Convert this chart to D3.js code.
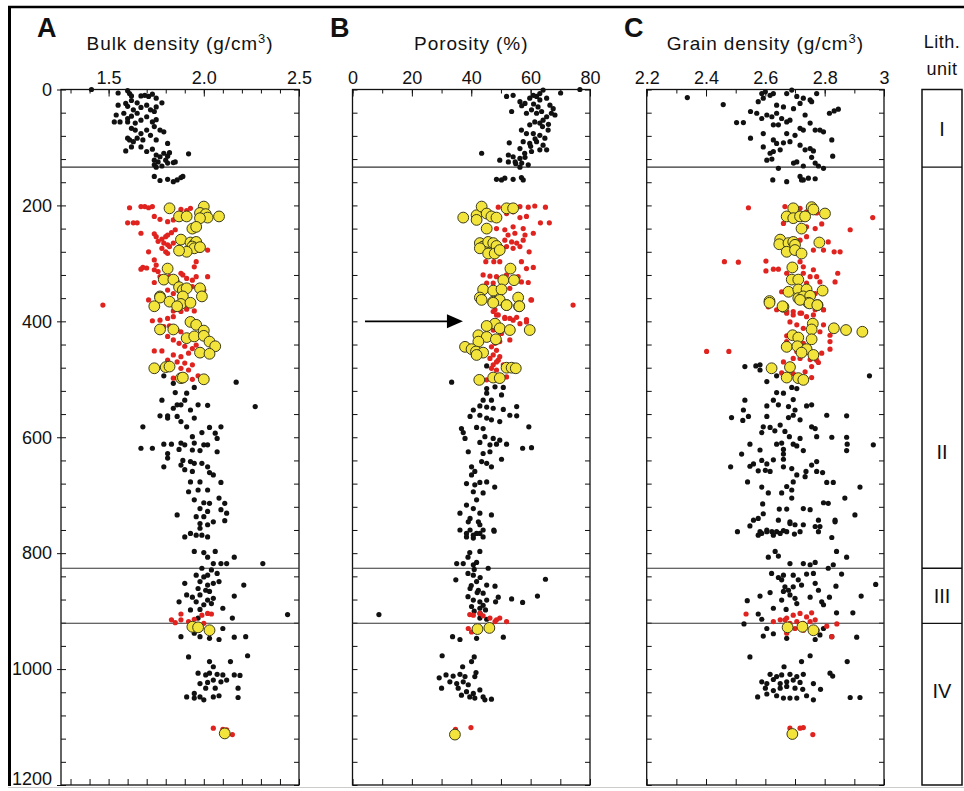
<!DOCTYPE html>
<html><head><meta charset="utf-8">
<script src="https://cdn.jsdelivr.net/npm/d3@7"></script>
<style>
body{margin:0;background:#fff}
svg{display:block}
text{font-family:"Liberation Sans",Arial,Helvetica,sans-serif;fill:#111}
</style>
</head><body>
<svg id="chart" width="964" height="791"></svg>
<script>
// ---------------- DATA ----------------
const depthTicks = [0, 200, 400, 600, 800, 1000, 1200];
const depthLabels = ["0", "200", "400", "600", "800", "1000", "1200"];
const unitBoundaries = [134, 826, 921];
const lithNames = ["I", "II", "III", "IV"];
const lithLabelDepths = [68, 625, 874, 1038];

const bulkTicks = [1.5, 2.0, 2.5];
const bulkTickLabels = ["1.5", "2.0", "2.5"];
const poroTicks = [0, 20, 40, 60, 80];
const poroTickLabels = ["0", "20", "40", "60", "80"];
const grainTicks = [2.2, 2.4, 2.6, 2.8, 3.0];
const grainTickLabels = ["2.2", "2.4", "2.6", "2.8", "3"];

const arrowDepth = 400, arrowFrom = 4.2, arrowTo = 37.2;

// [value, depth (m)]
const bulkBlack = [
[1.41,0],[1.55,6],[1.60,2],[1.61,7],[1.62,11],[1.67,11],[1.69,10],[1.71,12],[1.73,8],[1.75,15],[1.78,23],[1.55,27],[1.59,24],[1.60,29],[1.62,19],[1.63,35],[1.65,23],[1.67,31],[1.70,27],[1.72,35],[1.74,38],[1.75,30],[1.54,44],[1.58,41],[1.60,50],[1.62,46],[1.65,41],[1.67,53],[1.70,47],[1.73,56],[1.75,52],[1.53,56],[1.56,56],[1.60,56],[1.64,58],[1.62,67],[1.64,70],[1.67,76],[1.70,70],[1.74,64],[1.77,70],[1.79,73],[1.65,84],[1.60,84],[1.61,87],[1.63,90],[1.68,87],[1.72,79],[1.75,87],[1.81,93],[1.59,106],[1.62,99],[1.67,99],[1.70,107],[1.73,103],[1.75,113],[1.77,116],[1.79,110],[1.81,115],[1.82,109],[1.85,125],[1.92,111],[1.74,122],[1.76,125],[1.80,122],[1.74,130],[1.75,134],[1.78,132],[1.81,127],[1.84,126],[1.74,150],[1.77,157],[1.81,155],[1.84,159],[1.86,156],[1.88,152],[1.89,150],
[1.79,494],[2.17,505],[2.27,547],[1.84,507],[1.95,514],[1.85,523],[1.91,524],[1.78,536],[1.86,544],[1.88,544],[1.90,536],[1.93,553],[1.97,544],[2.02,545],[1.84,550],[1.81,563],[1.77,563],[1.81,567],[1.86,564],[1.88,573],[1.91,582],[1.95,567],[1.68,582],[2.03,583],[2.09,582],[1.94,599],[2.06,593],[2.07,602],[1.99,592],[1.79,612],[1.83,612],[1.88,610],[1.90,613],[1.95,610],[2.00,613],[2.02,613],[1.67,619],[1.73,619],[1.81,628],[1.87,621],[1.94,622],[1.98,623],[2.07,625],[1.81,636],[1.79,651],[1.89,640],[1.93,642],[1.88,648],[1.95,645],[1.90,656],[1.94,659],[1.99,645],[2.02,651],[2.03,661],[2.05,665],[1.93,677],[1.98,677],[2.09,678],[1.92,694],[1.97,691],[2.02,691],[1.95,708],[2.00,713],[2.03,714],[2.08,705],[2.11,714],[1.98,723],[2.02,728],[2.09,725],[2.12,731],[1.86,734],[1.96,737],[2.00,737],
[1.90,772],[1.93,766],[1.96,769],[1.99,769],[2.02,772],[1.98,749],[2.02,751],[2.05,746],[2.11,744],[1.98,757],[1.95,797],[2.00,799],[2.06,797],[2.02,807],[2.16,807],[2.31,818],[2.05,818],[2.09,818],[2.12,818],[1.99,826],[2.04,829],[2.07,835],[1.96,838],[2.00,841],[2.02,838],[2.08,849],[1.90,852],[1.98,849],[2.02,855],[2.05,852],[1.97,861],[2.01,864],[2.03,866],[2.21,855],[1.91,872],[1.94,876],[1.98,872],[2.02,881],[2.05,878],[2.16,874],[1.87,884],[1.96,884],[2.00,889],[2.04,887],[1.93,898],[1.98,897],[2.10,895],[2.15,912],[2.44,906],[1.97,912],[1.88,944],[1.95,938],[1.98,944],[2.03,947],[2.08,949],[2.10,930],[2.16,945],[2.22,944],[1.92,979],[2.23,977],[2.03,987],[2.14,987],[2.05,996],[1.97,1007],[2.01,1010],[2.03,1007],[2.07,1009],[2.10,1010],[2.16,1010],[2.19,1011],[1.98,1025],[2.02,1023],[2.05,1019],[2.09,1022],[2.12,1019],[2.01,1033],[2.06,1033],[2.18,1033],[1.91,1048],[1.95,1042],[1.98,1048],[2.00,1053],[2.05,1048],[2.08,1046],[2.18,1049],[1.95,1050]
];
const bulkRed = [
[1.61,204],[1.67,202],[1.69,202],[1.71,204],[1.73,202],[1.81,203],[1.88,207],[1.91,209],[1.93,205],[1.60,230],[1.63,230],[1.65,230],[1.74,219],[1.77,224],[1.81,228],[1.84,225],[1.88,222],[1.90,217],[1.67,248],[1.74,249],[1.75,254],[1.78,258],[1.80,254],[1.81,251],[1.83,247],[1.85,242],[1.79,265],[1.81,268],[1.82,271],[1.84,265],[1.78,274],[1.80,280],[1.81,283],[1.76,262],[2.02,277],[1.97,262],[1.71,280],[1.74,294],[1.75,303],[1.70,308],[1.68,307],[1.67,310],[1.74,311],[1.76,314],[1.81,306],[1.77,323],[1.80,329],[1.74,333],[1.82,323],[1.88,317],[1.89,320],[1.91,326],[1.94,329],[1.96,323],[2.02,323],[1.95,306],[1.86,331],[1.94,340],[1.88,343],[1.84,352],[1.81,346],[2.00,346],[1.96,297],[1.98,277],
[1.47,372],[1.71,363],[1.75,375],[1.81,369],[1.84,382],[1.88,383],[1.91,379],[1.95,382],[1.73,399],[1.77,398],[1.81,395],[1.84,392],[1.79,409],[1.82,408],[1.86,415],[1.88,418],[1.81,426],[1.84,432],[1.87,438],[1.90,443],[1.94,447],[1.96,441],[1.74,451],[1.78,451],[1.84,458],[1.88,461],[1.92,455],[1.81,467],[1.86,470],[1.90,472],[1.94,475],[1.88,481],[1.92,484],[1.90,493],[1.84,498],[1.97,494],[1.94,500],
[1.88,905],[1.83,915],[1.85,920],[1.88,915],[1.92,918],[1.95,914],[1.99,907],[2.02,904],[2.04,905],[2.00,921],[1.98,927],[2.05,1102],[2.10,1104],[2.12,1105],[2.15,1113]
];
const bulkYellow = [
[1.82,205],[1.87,219],[1.91,219],[2.00,202],[1.98,213],[2.01,215],[2.02,221],[1.98,222],[2.08,219],[1.94,240],[1.96,237],[1.88,259],[1.93,264],[1.95,267],[1.96,263],[1.94,271],[1.95,274],[1.91,280],[1.87,278],[1.98,272],[1.81,309],[1.79,328],[1.84,328],[1.87,341],[1.89,346],[1.91,343],[1.98,343],[1.77,357],[1.89,357],[1.99,357],
[1.77,359],[1.74,374],[1.82,366],[1.88,370],[1.93,368],[1.86,374],[1.93,401],[1.96,406],[2.00,416],[1.77,414],[1.84,414],[1.91,429],[1.95,426],[2.00,425],[2.03,435],[2.06,443],[1.98,454],[2.03,456],[1.74,481],[1.80,479],[1.82,478],[1.88,498],[1.89,497],[2.00,500],
[1.94,927],[1.97,928],[2.03,933],[2.11,1111]
];

const poroBlack = [
[76.6,0],[70.1,6],[63.1,7],[64.2,1],[51.9,12],[54.1,10],[56.4,21],[58.1,24],[59.7,15],[60.9,10],[63.1,18],[65.4,15],[66.5,27],[67.6,33],[53.6,38],[58.6,41],[60.3,35],[62.0,41],[63.7,38],[65.4,47],[67.0,41],[68.2,44],[59.7,61],[61.4,56],[63.1,58],[64.2,53],[65.9,70],[56.9,70],[58.6,76],[60.9,76],[63.1,79],[64.8,84],[57.5,90],[59.7,93],[62.0,90],[64.2,96],[52.8,92],[43.5,110],[56.4,102],[60.3,107],[63.1,104],[65.4,104],[52.5,113],[54.1,116],[56.4,119],[58.1,117],[49.6,122],[52.5,125],[54.8,125],[57.0,127],[59.2,130],[56.4,134],[48.5,155],[50.2,156],[51.3,153],[54.1,155],[56.9,152],[57.5,156],[61.0,25],[62.5,30],[64.0,64],[66.0,60],[61.5,85],[60.0,98],[58.0,110],[55.0,128],[62.0,12],[57.0,28],
[33.4,505],[45.2,477],[45.2,516],[48.0,513],[50.8,514],[45.2,524],[50.2,527],[46.8,536],[44.0,536],[42.9,546],[45.2,548],[47.4,550],[50.8,552],[55.3,547],[53.0,562],[55.3,563],[40.7,553],[39.6,564],[42.9,562],[45.2,567],[46.8,570],[49.6,573],[36.7,585],[37.3,592],[41.8,583],[44.0,585],[37.9,602],[44.6,599],[47.4,602],[49.6,605],[51.9,612],[57.3,619],[60.3,618],[59.4,582],[42.9,609],[46.3,613],[48.5,612],[39.0,625],[44.0,628],[46.3,625],[50.2,638],[43.5,642],[45.2,645],[46.8,651],[40.1,651],[41.2,659],[40.1,665],[45.2,677],[38.4,680],[41.2,682],[42.9,678],[47.9,686],[40.7,694],[44.0,696],[41.8,708],[38.4,717],[40.7,723],[42.9,731],[36.2,731],[39.6,740],[42.4,746],[46.8,734],[36.2,760],[39.6,760],[41.8,766],[44.0,760],[47.6,760],[38.4,772],[40.7,774],
[38.4,766],[40.7,769],[42.9,766],[44.0,772],[47.7,762],[39.0,746],[42.9,751],[39.5,799],[42.9,797],[38.9,807],[35.1,818],[37.3,818],[40.7,820],[41.8,816],[45.7,826],[38.9,835],[40.7,838],[34.8,846],[41.8,849],[45.2,855],[48.0,857],[39.6,861],[42.4,864],[44.0,869],[49.1,876],[53.6,879],[57.3,885],[62.3,874],[65.0,845],[38.9,875],[40.7,881],[42.9,884],[45.2,881],[48.2,884],[40.1,892],[42.9,895],[44.8,898],[8.9,906],[42.9,912],[45.2,914],[41.0,828],[43.0,842],[40.0,856],[42.0,868],[44.0,890],[41.0,900],[43.0,904],[33.7,944],[36.2,949],[41.8,947],[50.8,945],[30.2,977],[41.0,979],[40.1,987],[37.1,996],[41.6,1006],[41.2,1013],[29.2,1015],[31.5,1010],[33.9,1012],[36.2,1009],[37.9,1013],[32.8,1022],[35.1,1025],[37.3,1022],[39.0,1027],[30.0,1033],[35.6,1033],[38.4,1039],[40.7,1042],[42.9,1036],[36.7,1045],[39.5,1048],[41.2,1050],[44.0,1048],[46.8,1052],[44.6,1053]
];
const poroRed = [
[49.1,203],[51.9,214],[54.1,211],[56.4,202],[59.2,203],[61.4,201],[65.0,203],[56.4,221],[58.6,219],[63.3,230],[66.3,230],[48.5,240],[51.3,242],[54.1,237],[57.5,240],[52.4,251],[54.7,248],[58.1,251],[60.9,248],[51.3,260],[53.6,263],[55.3,265],[57.5,260],[51.9,271],[54.1,274],[56.4,271],[59.5,280],[44.9,297],[47.6,297],[49.6,297],[56.9,297],[60.9,307],[58.6,309],[44.0,320],[46.3,322],[48.5,323],[51.9,320],[55.8,323],[56.9,332],[59.2,333],[53.0,343],[45.2,334],[47.4,334],[60.1,363],[74.3,372],[48.0,380],[48.5,389],[51.3,393],[53.0,395],[55.3,393],[58.6,397],
[47.4,383],[49.1,389],[51.3,395],[54.1,398],[56.4,404],[58.6,401],[60.3,363],[53.0,432],[46.8,444],[48.5,450],[47.4,458],[49.1,467],[47.4,475],[48.5,484],[50.8,475],[46.8,493],[51.9,496],[45.2,501],[47.4,415],[45.2,421],[50.2,421],[49.6,435],[48.0,438],[46.3,464],[49.6,461],[48.5,470],[46.8,481],
[39.5,906],[40.7,907],[42.9,904],[44.0,908],[46.3,912],[48.5,915],[49.6,912],[51.9,918],[39.0,930],[40.1,936],[48.0,918],[34.7,1104],[39.9,1101]
];
const poroYellow = [
[37.3,221],[41.8,217],[43.5,202],[41.8,225],[45.2,214],[46.8,219],[48.5,221],[51.9,205],[54.1,205],[45.2,240],[42.9,265],[44.0,271],[45.7,263],[47.4,265],[48.5,270],[42.9,274],[45.7,283],[47.9,283],[49.6,277],[53.2,309],[50.8,329],[54.4,329],[44.0,345],[47.4,347],[50.2,345],[42.9,359],[47.4,366],[49.6,363],[51.9,372],[55.8,359],[56.1,374],
[43.5,363],[47.4,368],[51.9,372],[56.2,374],[48.0,404],[45.2,408],[49.6,412],[53.0,415],[59.7,415],[42.4,424],[45.2,427],[48.3,431],[42.4,435],[37.9,444],[40.1,448],[41.6,452],[44.0,454],[41.8,458],[51.9,480],[53.6,480],[55.0,481],[42.7,501],[47.4,497],[49.6,498],
[42.1,931],[46.1,929],[34.5,1113]
];

const grainBlack = [
[2.337,14],[2.458,26],[2.503,57],[2.526,57],[2.550,84],[2.550,38],[2.576,21],[2.588,7],[2.600,4],[2.616,10],[2.627,7],[2.593,15],[2.638,27],[2.661,30],[2.672,7],[2.689,1],[2.706,12],[2.728,15],[2.751,18],[2.773,7],[2.756,21],[2.717,24],[2.695,33],[2.734,44],[2.571,41],[2.588,50],[2.605,44],[2.622,47],[2.638,41],[2.655,50],[2.672,56],[2.683,53],[2.627,61],[2.644,61],[2.816,41],[2.832,37],[2.846,34],[2.593,76],[2.672,76],[2.700,79],[2.717,67],[2.728,70],[2.751,58],[2.768,70],[2.784,70],[2.796,73],[2.627,87],[2.638,93],[2.661,92],[2.683,90],[2.717,96],[2.734,104],[2.751,102],[2.762,106],[2.824,87],[2.593,99],[2.616,110],[2.627,107],[2.650,104],[2.605,122],[2.622,120],[2.695,127],[2.706,125],[2.728,132],[2.756,117],[2.768,127],[2.779,132],[2.796,136],[2.827,115],[2.644,136],[2.672,159],[2.625,156],[2.717,150],[2.728,156],[2.745,153],[2.768,154],[2.722,156],
[2.531,478],[2.568,477],[2.582,484],[2.582,475],[2.951,494],[2.605,504],[2.638,494],[2.689,514],[2.706,516],[2.638,523],[2.661,524],[2.627,536],[2.694,535],[2.531,536],[2.605,546],[2.644,544],[2.678,547],[2.700,553],[2.739,546],[2.756,544],[2.526,553],[2.543,564],[2.486,566],[2.524,571],[2.605,564],[2.678,566],[2.694,562],[2.717,570],[2.593,582],[2.616,583],[2.650,579],[2.756,582],[2.768,585],[2.807,562],[2.874,563],[2.588,592],[2.632,589],[2.666,590],[2.681,599],[2.717,602],[2.773,599],[2.824,600],[2.874,600],[2.876,612],[2.874,623],[2.964,613],[2.548,612],[2.638,612],[2.655,610],[2.694,612],[2.706,615],[2.582,622],[2.661,621],[2.728,623],[2.520,629],[2.661,629],[2.588,640],[2.605,646],[2.627,639],[2.661,638],[2.483,651],[2.548,650],[2.560,646],[2.576,658],[2.600,657],[2.616,659],[2.661,651],[2.689,654],[2.737,659],[2.756,648],[2.773,642],[2.773,659],[2.793,661],[2.706,665],[2.540,677],[2.588,686],[2.610,696],[2.655,696],[2.672,685],[2.694,677],[2.689,691],[2.734,668],[2.807,678],[2.829,678],[2.919,686],[2.868,705],[2.796,713],[2.812,714],[2.689,705],[2.591,715],[2.593,732],[2.576,740],[2.560,743],[2.647,724],[2.672,724],[2.728,723],[2.751,725],[2.644,743],[2.683,746],[2.700,751],[2.779,743],[2.835,743],[2.902,734],[2.548,753],[2.605,760],[2.582,763],[2.622,763],[2.638,763],[2.661,761],[2.672,763],[2.506,763],[2.717,763],[2.768,754],[2.784,754],[2.824,773],
[2.576,769],[2.588,766],[2.605,763],[2.627,769],[2.650,766],[2.698,767],[2.728,751],[2.779,763],[2.835,746],[2.683,749],[2.633,797],[2.644,805],[2.610,807],[2.728,818],[2.751,820],[2.768,816],[2.683,818],[2.829,820],[2.812,826],[2.840,797],[2.874,807],[2.621,835],[2.644,842],[2.661,838],[2.694,838],[2.711,846],[2.739,836],[2.762,835],[2.768,852],[2.779,864],[2.857,836],[2.838,857],[2.972,854],[2.923,874],[2.655,846],[2.666,858],[2.678,864],[2.694,858],[2.722,855],[2.661,866],[2.683,872],[2.700,878],[2.616,868],[2.582,874],[2.539,882],[2.706,887],[2.751,876],[2.790,884],[2.796,889],[2.816,876],[2.655,881],[2.627,895],[2.670,897],[2.840,903],[2.895,903],[2.576,905],[2.588,914],[2.528,922],[2.605,930],[2.593,943],[2.627,939],[2.672,947],[2.768,949],[2.784,941],[2.796,930],[2.824,944],[2.908,945],[2.548,979],[2.751,977],[2.722,987],[2.876,987],[2.663,996],[2.616,1009],[2.638,1013],[2.655,1010],[2.683,1009],[2.706,1013],[2.728,1009],[2.818,1007],[2.827,1012],[2.588,1022],[2.605,1025],[2.627,1018],[2.650,1025],[2.672,1022],[2.694,1019],[2.717,1023],[2.762,1025],[2.600,1033],[2.627,1037],[2.650,1033],[2.672,1030],[2.700,1033],[2.726,1035],[2.786,1035],[2.574,1048],[2.605,1043],[2.638,1046],[2.661,1050],[2.683,1050],[2.706,1050],[2.739,1046],[2.762,1053],[2.886,1049],[2.919,1049]
];
const grainRed = [
[2.543,204],[2.666,202],[2.717,205],[2.739,211],[2.773,213],[2.962,221],[2.886,242],[2.661,231],[2.739,237],[2.768,240],[2.790,232],[2.739,254],[2.717,260],[2.812,263],[2.796,277],[2.832,280],[2.852,280],[2.762,277],[2.462,297],[2.509,298],[2.602,296],[2.602,313],[2.627,310],[2.644,310],[2.717,297],[2.728,306],[2.762,311],[2.844,317],[2.835,332],[2.672,317],[2.728,317],[2.751,323],[2.773,323],[2.784,332],[2.711,337],[2.739,334],[2.655,349],[2.768,352],[2.751,369],[2.638,380],[2.672,386],[2.694,383],[2.722,386],[2.768,380],[2.796,380],[2.610,375],
[2.672,383],[2.694,389],[2.717,386],[2.739,392],[2.762,389],[2.796,380],[2.683,401],[2.706,406],[2.728,412],[2.784,418],[2.818,424],[2.796,406],[2.672,425],[2.402,452],[2.477,452],[2.818,435],[2.818,448],[2.790,455],[2.773,467],[2.751,466],[2.717,464],[2.694,464],[2.661,470],[2.689,475],[2.756,478],[2.779,471],[2.655,489],[2.756,497],[2.694,490],[2.734,487],[2.672,435],[2.728,438],[2.706,452],
[2.535,905],[2.627,918],[2.650,915],[2.672,912],[2.694,907],[2.717,904],[2.739,910],[2.756,903],[2.768,915],[2.706,918],[2.666,915],[2.683,921],[2.728,921],[2.751,918],[2.807,926],[2.841,922],[2.700,930],[2.672,938],[2.728,933],[2.775,933],[2.824,944],[2.683,1102],[2.717,1102],[2.728,1101],[2.760,1113]
];
const grainYellow = [
[2.694,205],[2.756,203],[2.762,207],[2.801,214],[2.672,219],[2.694,222],[2.717,219],[2.734,219],[2.722,240],[2.650,259],[2.647,267],[2.678,265],[2.694,263],[2.700,268],[2.672,280],[2.700,277],[2.722,283],[2.782,264],[2.691,307],[2.689,328],[2.711,328],[2.678,349],[2.711,345],[2.739,345],[2.711,360],[2.728,357],[2.751,356],[2.793,347],[2.614,365],[2.661,375],[2.745,368],[2.776,372],
[2.614,368],[2.658,374],[2.717,363],[2.749,369],[2.775,372],[2.760,404],[2.756,414],[2.831,412],[2.872,415],[2.927,418],[2.692,424],[2.711,428],[2.756,431],[2.672,444],[2.708,443],[2.739,448],[2.722,454],[2.762,458],[2.621,481],[2.683,479],[2.672,497],[2.711,498],[2.728,501],
[2.675,928],[2.725,927],[2.762,933],[2.691,1112]
];

// ---------------- DRAW ----------------
const svg = d3.select("#chart");
const FONT = '"Liberation Sans",Arial,Helvetica,sans-serif';
const plotTop = 89.5, plotBottom = 785;
const y = d3.scaleLinear().domain([0, 1200]).range([plotTop, plotBottom]);
const minorDepths = d3.range(0, 1201, 40);

// outer frame
svg.append("line").attr("x1", 9.5).attr("x2", 9.5).attr("y1", 6).attr("y2", 786).attr("stroke", "#000").attr("stroke-width", 3);
svg.append("line").attr("x1", 8).attr("x2", 964).attr("y1", 7).attr("y2", 7).attr("stroke", "#000").attr("stroke-width", 2.5);
svg.append("line").attr("x1", 8).attr("x2", 964).attr("y1", 787.5).attr("y2", 787.5).attr("stroke", "#ccc").attr("stroke-width", 1);

const panels = [
  {letter: "A", letterX: 37, title: "Bulk density (g/cm", sup: "3", x: d3.scaleLinear().domain([1.25, 2.5]).range([61, 299]),
   majors: bulkTicks, majorLabels: bulkTickLabels, minors: d3.range(13, 26).map(v => v / 10),
   black: bulkBlack, red: bulkRed, yellow: bulkYellow, yLabels: true},
  {letter: "B", letterX: 330, title: "Porosity (%)", sup: null, x: d3.scaleLinear().domain([0, 80]).range([352.5, 590]),
   majors: poroTicks, majorLabels: poroTickLabels, minors: d3.range(0, 81, 10),
   black: poroBlack, red: poroRed, yellow: poroYellow, yLabels: false},
  {letter: "C", letterX: 624, title: "Grain density (g/cm", sup: "3", x: d3.scaleLinear().domain([2.2, 3.0]).range([646.7, 884]),
   majors: grainTicks, majorLabels: grainTickLabels, minors: d3.range(22, 31).map(v => v / 10),
   black: grainBlack, red: grainRed, yellow: grainYellow, yLabels: false}
];

panels.forEach(p => {
  const [x0, x1] = p.x.range();
  const g = svg.append("g");

  g.append("text").attr("x", p.letterX).attr("y", 37).attr("font-size", 27).attr("font-weight", "bold").text(p.letter);
  const t = g.append("text").attr("x", (x0 + x1) / 2).attr("y", 50).attr("text-anchor", "middle")
    .attr("font-size", 19).attr("letter-spacing", 0.9);
  t.append("tspan").text(p.title);
  if (p.sup) {
    t.append("tspan").attr("font-size", 13).attr("dy", -7).text(p.sup);
    t.append("tspan").attr("dy", 7).text(")");
  }

  const topMajor = d3.axisTop(p.x).tickValues(p.majors).tickFormat((d, i) => p.majorLabels[i]).tickSizeInner(-7).tickSizeOuter(0).tickPadding(6);
  g.append("g").attr("transform", `translate(0,${plotTop})`).call(topMajor);
  const topMinor = d3.axisTop(p.x).tickValues(p.minors).tickFormat("").tickSizeInner(-4).tickSizeOuter(0);
  g.append("g").attr("transform", `translate(0,${plotTop})`).call(topMinor);
  const botAx = d3.axisBottom(p.x).tickValues(p.minors).tickFormat("").tickSizeInner(-6).tickSizeOuter(0);
  g.append("g").attr("transform", `translate(0,${plotBottom})`).call(botAx);

  g.append("g").attr("transform", `translate(${x0},0)`).call(d3.axisRight(y).tickValues(minorDepths).tickFormat("").tickSizeInner(5).tickSizeOuter(0));
  g.append("g").attr("transform", `translate(${x1},0)`).call(d3.axisLeft(y).tickValues(minorDepths).tickFormat("").tickSizeInner(5).tickSizeOuter(0));
  if (p.yLabels) {
    const ax = g.append("g").attr("transform", `translate(${x0},0)`)
      .call(d3.axisLeft(y).tickValues(depthTicks).tickFormat((d, i) => depthLabels[i]).tickSizeInner(4).tickSizeOuter(0).tickPadding(5));
    // keep the bottom label inside the picture
    ax.selectAll(".tick text").filter(d => d === 1200).attr("dy", "-0.05em");
  }

  g.selectAll(".domain").remove();
  g.selectAll(".tick line").attr("stroke", "#111");
  g.selectAll(".tick text").attr("font-size", 18).attr("font-family", FONT).attr("fill", "#111");

  g.append("rect").attr("x", x0).attr("y", plotTop).attr("width", x1 - x0).attr("height", plotBottom - plotTop)
    .attr("fill", "none").attr("stroke", "#111").attr("stroke-width", 1.3);

  g.selectAll("line.unit").data(unitBoundaries).join("line").attr("class", "unit")
    .attr("x1", x0).attr("x2", x1).attr("y1", d => y(d)).attr("y2", d => y(d))
    .attr("stroke", "#333").attr("stroke-width", 1.1);

  g.append("g").selectAll("circle").data(p.black).join("circle")
    .attr("cx", d => p.x(d[0])).attr("cy", d => y(d[1])).attr("r", 2.6).attr("fill", "#111");
  g.append("g").selectAll("circle").data(p.red).join("circle")
    .attr("cx", d => p.x(d[0])).attr("cy", d => y(d[1])).attr("r", 2.6).attr("fill", "#e0231f");
  g.append("g").selectAll("circle").data(p.yellow).join("circle")
    .attr("cx", d => p.x(d[0])).attr("cy", d => y(d[1])).attr("r", 5.4)
    .attr("fill", "#f3e43c").attr("stroke", "#3a3a1a").attr("stroke-width", 1);
});

// arrow in panel B
const xB = panels[1].x;
const ay = y(arrowDepth);
svg.append("line").attr("x1", xB(arrowFrom)).attr("x2", xB(arrowTo) - 14).attr("y1", ay).attr("y2", ay)
  .attr("stroke", "#000").attr("stroke-width", 1.8);
svg.append("path")
  .attr("d", `M${xB(arrowTo)},${ay} L${xB(arrowTo) - 16},${ay - 7} L${xB(arrowTo) - 16},${ay + 7} Z`)
  .attr("fill", "#000");

// lithologic unit column
const lx0 = 922, lx1 = 962;
svg.append("text").attr("x", 942).attr("y", 48).attr("text-anchor", "middle").attr("font-size", 18).attr("letter-spacing", 0.5).text("Lith.");
svg.append("text").attr("x", 942).attr("y", 75).attr("text-anchor", "middle").attr("font-size", 18).attr("letter-spacing", 0.5).text("unit");
svg.append("rect").attr("x", lx0).attr("y", plotTop).attr("width", lx1 - lx0).attr("height", plotBottom - plotTop)
  .attr("fill", "none").attr("stroke", "#111").attr("stroke-width", 1.5);
svg.selectAll("line.lith").data(unitBoundaries).join("line").attr("class", "lith")
  .attr("x1", lx0).attr("x2", lx1).attr("y1", d => y(d)).attr("y2", d => y(d)).attr("stroke", "#111").attr("stroke-width", 1.3);
svg.selectAll("text.lithname").data(lithNames).join("text").attr("class", "lithname")
  .attr("x", (lx0 + lx1) / 2).attr("y", (d, i) => y(lithLabelDepths[i])).attr("dy", "0.36em")
  .attr("text-anchor", "middle").attr("font-size", 20).text(d => d);
</script>
</body></html>
